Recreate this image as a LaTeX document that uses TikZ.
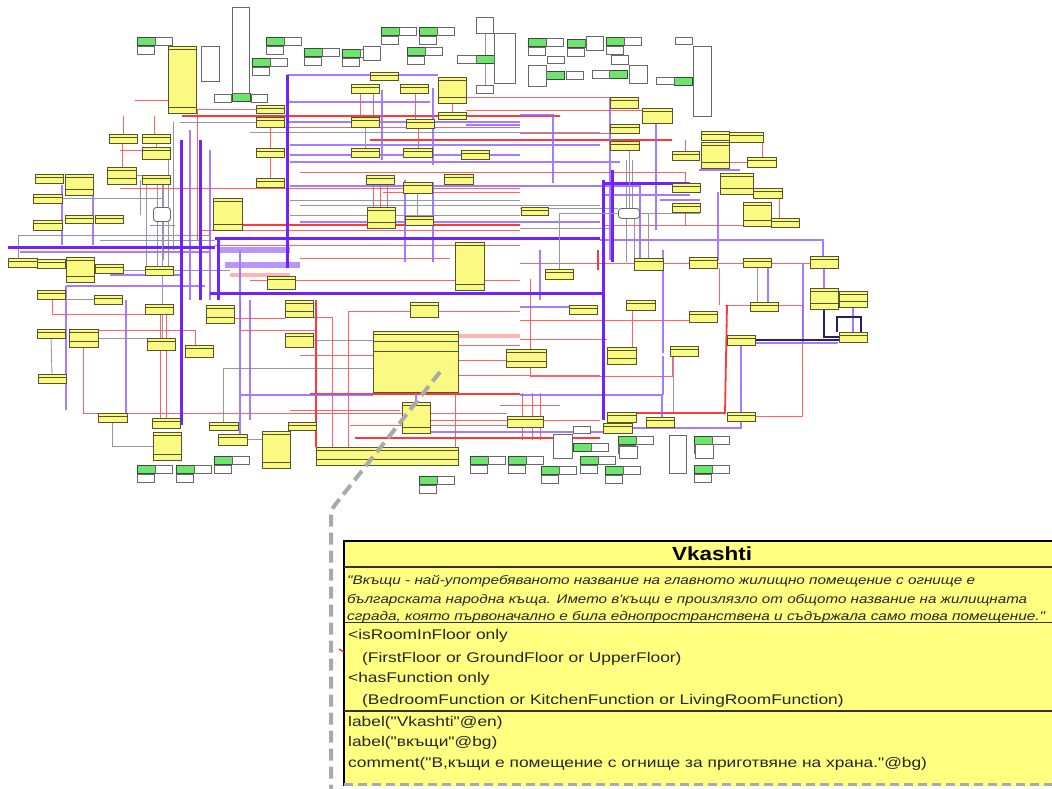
\documentclass[tikz,border=0pt]{standalone}
\usepackage{fontspec}
\usepackage{graphicx}
\newfontfamily\umlfont{Liberation Sans}
\usetikzlibrary{positioning,backgrounds,calc}

\definecolor{clsfill}{RGB}{250,250,130}
\definecolor{clsdraw}{RGB}{85,85,45}
\definecolor{vkfill}{RGB}{255,255,128}
\definecolor{indfill}{RGB}{110,228,110}
\definecolor{inddraw}{RGB}{55,75,55}
\definecolor{litdraw}{RGB}{105,105,105}
\definecolor{wirered}{RGB}{255,70,70}
\definecolor{wirepur}{RGB}{150,100,255}
\definecolor{wirepurt}{RGB}{110,35,255}
\definecolor{wiregrey}{RGB}{150,150,170}
\definecolor{wirenavy}{RGB}{40,30,110}
\definecolor{zoomgrey}{RGB}{170,170,170}

\tikzset{
  cls/.style={draw=clsdraw, fill=clsfill, line width=0.8pt, inner sep=0pt, outer sep=0pt, anchor=north west,
    path picture={\draw[clsdraw, line width=0.5pt]
      ([yshift=-3pt]path picture bounding box.north west) -- ([yshift=-3pt]path picture bounding box.north east);}},
  clsc/.style={cls, path picture={\draw[clsdraw, line width=0.5pt]
      ([yshift=-3pt]path picture bounding box.north west) -- ([yshift=-3pt]path picture bounding box.north east)
      ([yshift=6pt]path picture bounding box.south west) -- ([yshift=6pt]path picture bounding box.south east);}},
  indv/.style={draw=inddraw, fill=indfill, line width=0.9pt, inner sep=0pt, outer sep=0pt, anchor=north west,
    minimum width=18pt, minimum height=8pt},
  lit/.style={draw=litdraw, fill=white, line width=0.9pt, inner sep=0pt, outer sep=0pt, anchor=north west,
    minimum width=17pt, minimum height=8pt},
  hub/.style={draw=litdraw, fill=white, line width=0.9pt, rounded corners=3pt, inner sep=0pt, anchor=north west},
  redw/.style={wirered, line width=0.9pt, opacity=0.85},
  redt/.style={wirered!80!red, line width=1.8pt},
  purm/.style={wirepur, line width=1.5pt, opacity=0.85},
  purt/.style={wirepurt, line width=3pt},
  purband/.style={wirepurt!60, line width=6pt, opacity=0.8},
  greyw/.style={wiregrey, line width=0.9pt},
  navyw/.style={wirenavy, line width=1.4pt},
  vkline/.style={anchor=base west, inner sep=0pt, text=black!85},
}
\newcommand{\umlind}[3]{%
  \node[indv] (#1) at (#2,#3) {};
  \node[lit] (#1r) at (#1.north east) {};
  \node[lit] (#1b) at ([yshift=-1.5pt]#1.south west) {};}
\newcommand{\vkrow}[1]{\scalebox{1.24}[1]{\umlfont\fontsize{14}{14}\selectfont #1}}
\newcommand{\vkdoc}[2]{\resizebox{#1}{\height}{\umlfont\itshape\fontsize{12.5}{12.5}\selectfont #2}}

\begin{document}
\begin{tikzpicture}[x=1pt, y=-1pt]
\useasboundingbox (0,0) rectangle (1052,789);
\clip (0,0) rectangle (1052,789);

% classes
\foreach \n/\x/\y/\w/\h in {a2/256/105/28/8, a3/256/117/28/10, a4/370/72/28/8, a5/351/84/28/9,
  a6/400/84/28/9, a8/438/112/28/7, a9/351/117/28/10, a10/406/119/28/9, a11/109/134/28/9,
  a12/142/134/28/9, a13/142/147/28/12, a14/256/148/28/9, a15/351/148/28/9, a16/403/148/29/9,
  a17/461/150/28/9, a18/35/174/28/9, a21/142/175/28/9, a22/256/178/28/9, a23/366/175/28/9,
  a24/403/182/29/11, a25/444/174/29/10, a26/33/194/29/9, a29/405/216/28/9, a30/521/207/27/8,
  a31/33/220/29/10, a32/65/215/28/8, a33/95/215/28/8, a35/610/97/28/11, a36/642/108/30/15,
  a37/610/124/29/9, a38/610/141/29/9, a39/672/151/27/9, a40/701/131/28/9, a41/729/132/34/10,
  a43/747/157/29/10, a45/753/188/29/10, a46/672/183/28/9, a47/672/203/28/9, a49/771/218/28/9,
  a50/8/258/29/9, a51/37/259/28/9, a53/95/264/28/9, a54/145/266/28/9, a55/267/276/28/13,
  a56/37/290/28/9, a57/94/295/28/9, a58/145/304/28/10, a61/410/302/28/15, a62/37/329/28/9,
  a64/147/338/28/12, a65/185/345/28/12, a66/285/333/28/14, a69/38/374/28/9, a70/98/413/29/9,
  a71/152/418/28/10, a73/209/422/29/8, a74/218/434/29/11, a76/288/422/28/8, a79/507/416/36/11,
  a80/545/269/28/10, a81/634/258/29/12, a82/689/257/28/11, a83/743/258/28/9, a84/810/256/28/12,
  a85/569/305/28/9, a86/626/300/29/10, a87/689/311/28/11, a88/750/302/28/9, a91/839/332/28/10,
  a92/727/335/28/10, a94/670/346/28/10, a95/607/412/29/10, a96/603/423/29/10, a97/646/417/28/10,
  a98/727/412/28/9}
  \node[cls, minimum width=\w pt, minimum height=\h pt] (\n) at (\x,\y) {};
\foreach \n/\x/\y/\w/\h in {a1/168/46/28/67, a7/438/77/28/26, a19/65/174/28/21, a20/107/167/29/17,
  a27/213/198/29/32, a28/367/207/28/21, a34/455/242/29/48, a42/701/142/28/26, a44/720/173/33/21,
  a48/743/202/28/24, a52/66/257/28/25, a59/206/305/28/18, a60/285/300/28/17, a63/69/329/29/18,
  a68/506/349/40/18, a72/153/432/28/28, a75/262/431/28/37, a77/402/402/28/31, a78/316/447/142/18,
  a89/810/288/28/21, a90/839/291/28/16, a93/607/347/29/17}
  \node[clsc, minimum width=\w pt, minimum height=\h pt] (\n) at (\x,\y) {};
\node[cls, minimum width=85pt, minimum height=61pt,
  path picture={\draw[clsdraw, line width=0.6pt]
    ([yshift=-3pt]path picture bounding box.north west) -- ([yshift=-3pt]path picture bounding box.north east)
    ([yshift=-10pt]path picture bounding box.north west) -- ([yshift=-10pt]path picture bounding box.north east)
    ([yshift=-20pt]path picture bounding box.north west) -- ([yshift=-20pt]path picture bounding box.north east);}]
  (a67) at (373,331) {};

% individuals and literals
\foreach \n/\x/\y in {g1/137/37, g2/266/37, g3/304/48, g4/342/49, g5/381/27, g6/419/27, g7/407/47,
  g8/528/38, g9/567/39, g10/606/37, g11/252/58, g12/137/465, g13/176/465, g14/214/456, g15/419/476,
  g16/470/456, g17/508/456, g18/541/466, g19/580/456, g20/605/466, g21/694/465, g22/618/436, g23/694/436}
  {\umlind{\n}{\x}{\y}}
\foreach \n/\x/\y in {l1/232/93, l2/476/55, l3/546/71, l4/609/70, l5/674/77, l6/573/443}
  \node[indv] (\n) at (\x,\y) {};
\foreach \n/\x/\y/\w/\h in {w1/201/46/18/35, w2/232/7/17/86, w3/214/94/17/8, w4/251/94/16/8,
  w5/476/17/17/16, w6/494/33/21/50, w7/476/85/17/8, w8/457/55/19/8, w9/693/46/18/70, w10/675/37/17/7,
  w11/528/65/18/21, w12/566/71/17/8, w13/592/70/17/8, w14/629/65/18/18, w15/611/55/17/9,
  w16/547/56/17/7, w17/553/434/19/24, w18/669/435/17/38, w19/573/426/17/7, w20/591/443/17/8,
  w21/619/446/18/12, w22/695/444/18/14, w23/656/77/18/7, w24/586/36/17/14, w25/363/46/17/14}
  \node[lit, minimum width=\w pt, minimum height=\h pt] (\n) at (\x,\y) {};
\node[hub, minimum width=17pt, minimum height=14pt] (hubL) at (153,207) {};
\node[hub, minimum width=21pt, minimum height=10pt] (hubR) at (618,208) {};

\begin{pgfonlayer}{background}
% wiring
\draw[greyw] (173,122)--(173,250) (168,160)--(168,270) (146,175)--(146,270) (140,180)--(140,215)
  (157,180)--(157,275) (163,185)--(163,260) (150,225)--(175,225)
  (180,122)--(256,122) (290,200)--(520,200) (290,215)--(520,215) (18,235)--(210,235) (18,235)--(18,258)
  (223,368)--(373,368) (223,368)--(223,422) (485,33)--(485,85) (520,208)--(618,208) (639,213)--(700,213)
  (626,160)--(626,208) (632,160)--(632,208) (626,218)--(626,262) (634,218)--(634,258)
  (673,356)--(673,412) (313,340)--(373,340) (100,270)--(230,270) (67,299)--(94,299)
  (300,205)--(600,205) (250,132)--(600,132) (100,240)--(215,240) (520,228)--(610,228);
\draw[redw] (123,116)--(123,134) (154,116)--(154,134) (122,143)--(122,167)
  (197,109)--(256,109) (197,109)--(197,240) (270,127)--(520,127)
  (120,188)--(520,188) (200,230)--(520,230) (215,245)--(520,245)
  (360,93)--(360,117) (373,93)--(373,117) (415,93)--(415,119) (418,128)--(418,148)
  (373,184)--(373,207) (380,184)--(380,207) (387,184)--(387,207) (383,192)--(520,192)
  (466,97)--(610,97) (466,110)--(642,110) (520,133)--(610,133) (685,140)--(685,151)
  (729,140)--(762,140)--(762,157) (729,162)--(747,162) (779,198)--(779,218)
  (300,172)--(685,172)--(685,183) (602,225)--(743,225) (685,212)--(685,225)
  (83,347)--(83,413)--(507,413) (98,330)--(195,330)--(195,345) (52,299)--(52,314)--(145,314)
  (160,314)--(160,418) (166,314)--(166,418) (332,317)--(332,447) (348,311)--(348,447) (348,311)--(520,311)
  (455,392)--(455,447) (520,263)--(810,263) (530,279)--(530,376)--(672,376)--(672,356)
  (520,320)--(690,320) (520,339)--(607,339) (632,310)--(632,347)
  (725,305)--(802,305)--(802,416)--(755,416) (719,268)--(719,305)
  (522,393)--(522,440) (532,393)--(532,440) (540,393)--(540,440) (500,405)--(560,405)
  (234,318)--(285,318) (313,317)--(332,317) (458,360)--(520,360)
  (240,330)--(316,330) (300,355)--(373,355) (458,375)--(600,375) (458,345)--(520,345)
  (350,425)--(520,425) (430,420)--(600,420) (240,300)--(240,330) (290,410)--(400,410)
  (250,280)--(520,280) (300,258)--(450,258) (135,100)--(168,100) (120,150)--(142,150);
\draw[wirered!40, line width=4pt] (458,336)--(520,336) (230,275)--(290,275);
\draw[redt] (182,116)--(560,116) (370,140)--(672,140) (310,394)--(520,394)
  (727,305)--(725,413)--(607,413) (355,438)--(600,438) (598,250)--(598,270) (316,300)--(316,447)
  (215,225)--(520,225);
\draw[purm] (290,162)--(620,162) (290,186)--(640,186) (382,90)--(382,160) (433,88)--(433,165)
  (405,180)--(405,262) (433,182)--(433,262) (62,185)--(62,245) (93,185)--(93,245)
  (66,286)--(205,286) (66,286)--(66,410) (240,250)--(240,440) (126,300)--(126,413)
  (240,395)--(373,395) (430,432)--(607,432) (287,75)--(438,75) (287,102)--(430,102)
  (287,122)--(520,122) (466,125)--(520,125) (520,115)--(553,115)--(553,183)
  (610,97)--(610,260) (656,123)--(656,230) (660,200)--(700,200) (718,192)--(718,260)
  (600,240)--(823,240)--(823,256) (699,170)--(740,170) (603,195)--(690,195) (520,307)--(569,307)
  (663,250)--(663,353) (663,356)--(663,395) (520,395)--(662,395)--(662,417) (768,267)--(768,303)
  (803,263)--(803,343) (755,343)--(838,343)
  (290,145)--(600,145) (290,155)--(520,155) (300,222)--(600,222) (640,185)--(640,262)
  (190,130)--(190,300) (210,150)--(210,300) (20,252)--(210,252) (110,275)--(180,275)
  (250,300)--(250,420) (540,250)--(540,300);
\draw[purband] (217,250)--(290,250) (225,265)--(300,265);
\draw[purt] (181,140)--(181,425) (287,75)--(287,268) (215,238)--(600,238) (210,293)--(605,293)
  (603,180)--(603,420) (603,183)--(690,183) (8,247)--(215,247) (200,140)--(200,300) (218,238)--(218,300)
  (612,170)--(612,262);
% connectors between classes
\draw[redw] (a3.south) -- (a14.north);
\draw[redw] (a14.south) -- (a22.north);
\draw[redw] (a7.south) -- (a8.north);
\draw[redw] (a12.south) -- (a13.north);
\draw[greyw] (a62.south) -- (a69.north);
\draw[greyw] (a70.south) |- (a72.west);
\draw[greyw] (a74.east) -- (a74.east -| a75.west);
\draw[greyw] (a24.south) -- (a24.south |- a29.north);
\draw[greyw] (a9.south) -- (a9.south |- a15.north);
\draw[greyw] (a83.south) -- (a83.south |- a88.north);
\draw[purm] (a92.south) |- (a96.east);
\draw[purm] (a84.south) -- (a89.north);
\draw[purm] (a90.south) -- (a90.south |- a91.north);
\draw[purm] (a77.north) -- (a77.north |- a67.south);
\draw[navyw] (a92.east) -- (a92.east -| a91.west);
\draw[navyw] (a89.south) |- (a91.west);
\draw[navyw] ([xshift=-2pt]a91.north west) -- ++(0,-15) -| ([xshift=-6pt]a91.north east);
\draw[greyw] (a20.east) -| (hubL.north);
\draw[greyw] (a26.east) -| (hubL.south);
\draw[greyw] (hubL.south) |- (a63.east);
\draw[greyw] (hubR.north) -- (hubR.north |- a38.south);
\draw[greyw] (hubR.east) -| (a81.north);
\draw[greyw] (hubR.west) -| (a80.north);
\end{pgfonlayer}

% zoomed class
\coordinate (zoomA) at (440,372);
\draw[zoomgrey, line width=4pt, dash pattern=on 12pt off 6pt, rounded corners=6pt]
  (zoomA) -- (331,510) -- (331,795);
\node[fill=vkfill, inner sep=0pt, anchor=north west, minimum width=716pt, minimum height=245pt] (vk) at (344,541) {};
\draw[black, line width=1.2pt] (vk.south west) -- (vk.north west) -- (vk.north east);
\draw[zoomgrey, line width=3pt, dash pattern=on 9pt off 5pt] ([yshift=1.5pt]vk.south west) -- ([yshift=1.5pt]vk.south east);
\draw[black!80, line width=1.3pt] (344,567) -- (1060,567) (344,711) -- (1060,711);
\draw[black!80, line width=0.7pt] (344,622) -- (1060,622);
\draw[red, line width=1pt] (339,649) -- (344,652);

\node[anchor=base, inner sep=0pt] (vkTitle) at (712,560)
  {\resizebox{80pt}{\height}{\umlfont\bfseries\fontsize{19}{19}\selectfont Vkashti}};
\node[vkline] (vkDocA) at (347,584) {\vkdoc{628pt}{"Вкъщи - най-употребяваното название на главното жилищно помещение с огнище е}};
\node[vkline] (vkDocB) at (347,603) {\vkdoc{680pt}{българската народна къща. Името в'къщи е произлязло от общото название на жилищната}};
\node[vkline] (vkDocC) at (347,620) {\vkdoc{698pt}{сграда, която първоначално е била еднопространствена и съдържала само това помещение."}};
\node[vkline] (vkRelA) at (348,639) {\vkrow{<isRoomInFloor only}};
\node[vkline] (vkRelB) at (362,662) {\vkrow{(FirstFloor or GroundFloor or UpperFloor)}};
\node[vkline] (vkRelC) at (348,682) {\vkrow{<hasFunction only}};
\node[vkline] (vkRelD) at (362,704) {\vkrow{(BedroomFunction or KitchenFunction or LivingRoomFunction)}};
\node[vkline] (vkLabA) at (348,726) {\vkrow{label("Vkashti"@en)}};
\node[vkline] (vkLabB) at (348,746) {\vkrow{label("вкъщи"@bg)}};
\node[vkline] (vkCom) at (348,767) {\vkrow{comment("В,къщи е помещение с огнище за приготвяне на храна."@bg)}};
\end{tikzpicture}
\end{document}
